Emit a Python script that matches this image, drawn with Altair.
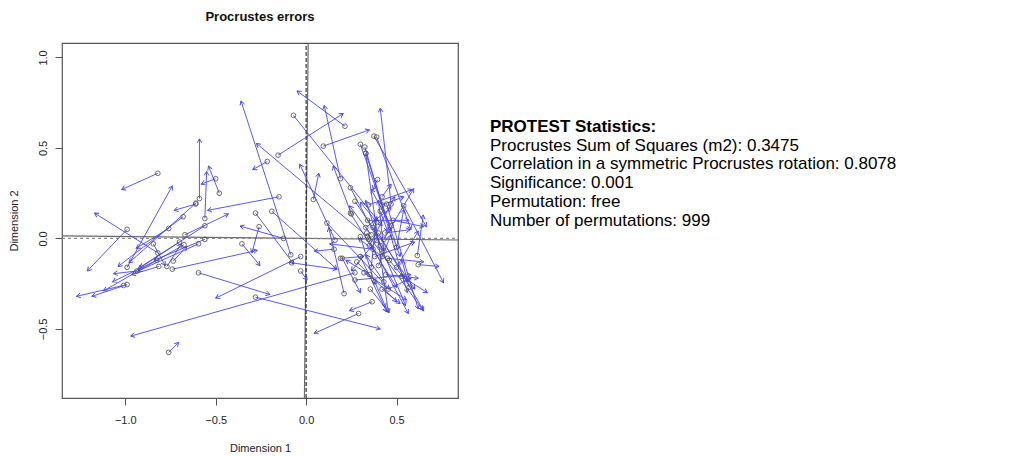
import altair as alt
import numpy as np
import pandas as pd

# Procrustes residual arrows: start (rotated target, drawn as a circle) -> end (arrow head)
x_start = [
    -0.82, -0.99, -0.82, -0.99, -0.59, -0.50, -0.48, -0.56, -0.61, -0.68,
    -0.15, -0.67, -0.76, -0.935, -1.01, -0.99, -0.74, -0.595, -0.76, 0.27,
    -0.28, -0.03, -0.355, -0.26, -0.675, -0.595, -0.56, -0.815, -0.61, -0.735,
    -0.70, -0.56, -0.845, -0.77, -0.825,
    -0.215, -0.085, 0.34, -0.155, -0.07, 0.215, 0.095, 0.19, 0.16, 0.04,
    -0.28, -0.19, 0.115, 0.21, -0.08, -0.03, 0.155, -0.125, 0.19,
    0.47, 0.375, 0.39, 0.30, 0.33, 0.325, 0.395, 0.245, 0.27, 0.345,
    0.42, 0.42, 0.445, 0.245, 0.25, 0.48, 0.435, 0.615, 0.62, 0.28,
    0.32, 0.27, 0.365, 0.29, 0.355, 0.42, 0.455, 0.37, 0.36, 0.40,
    0.39, 0.35, 0.41, 0.38, 0.43, 0.46, 0.40, 0.35, 0.44, 0.50,
    0.53, 0.47, 0.33, 0.30, 0.39, 0.50, 0.43, 0.38, 0.57, 0.34,
    0.41, 0.33, 0.54, 0.335, 0.345, 0.30, 0.43, 0.37, 0.45, 0.20,
    0.36, 0.42,
]
y_start = [
    0.36, 0.05, -0.08, -0.16, 0.22, 0.33, 0.25, 0.11, 0.19, 0.12,
    0.23, 0.02, 0.055, -0.18, -0.26, -0.255, -0.17, -0.19, -0.63, -0.19,
    -0.325, -0.10, -0.03, 0.065, -0.035, -0.03, -0.005, -0.155, 0.195, -0.125,
    -0.02, 0.07, -0.03, -0.155, -0.12,
    0.425, -0.09, 0.01, 0.46, 0.68, 0.62, 0.51, 0.33, -0.01, 0.215,
    0.14, 0.15, 0.085, -0.305, -0.135, -0.18, -0.06, 0.00, -0.11,
    0.19, 0.565, 0.56, 0.52, 0.47, 0.505, 0.325, 0.28, 0.205, 0.185,
    0.23, 0.185, 0.19, 0.14, 0.135, 0.10, 0.03, -0.095, -0.145, -0.13,
    -0.19, -0.23, -0.35, -0.415, -0.28, -0.28, -0.28, 0.06, 0.02, 0.03,
    -0.01, -0.04, -0.04, -0.10, -0.07, -0.12, -0.15, -0.20, -0.20, -0.16,
    -0.21, 0.07, 0.06, 0.01, 0.09, -0.05, -0.24, -0.24, -0.27, 0.10,
    0.15, 0.47, 0.18, 0.03, -0.005, -0.10, -0.005, -0.06, -0.11, -0.11,
    -0.16, -0.10,
]
x_end = [
    -1.02, -1.21, -1.17, -0.74, -0.59, -0.58, -0.54, -0.55, -0.73, -1.04,
    -0.545, -0.43, -0.94, -1.065, -1.27, -1.185, -0.27, -0.20, -0.705, -0.97,
    0.41, -0.50, -0.255, -0.30, -1.12, -0.93, -0.84, -0.965, -0.98, -0.66,
    -0.93, -0.92, -0.78, -0.69, -1.07,
    -0.295, -0.36, -0.275, 0.205, 0.42, -0.05, 0.35, 0.10, -0.035, 0.07,
    -0.07, 0.17, 0.46, 0.125, 0.17, 0.005, 0.045, -0.365, 0.32,
    0.41, 0.665, 0.58, 0.52, 0.455, 0.56, 0.37, 0.43, 0.60, 0.585,
    0.47, 0.54, 0.62, 0.50, 0.15, 0.65, 0.575, 0.648, 0.735, 0.50,
    0.555, 0.58, 0.24, 0.045, 0.46, 0.52, 0.58, 0.55, 0.24, 0.65,
    0.25, 0.49, 0.33, 0.60, 0.40, 0.56, 0.47, 0.22, 0.62, 0.62,
    0.67, 0.36, 0.47, 0.38, 0.30, 0.54, 0.33, 0.44, 0.53, 0.57,
    0.45, 0.47, 0.76, 0.645, 0.565, 0.445, 0.595, 0.13, 0.65, 0.30,
    0.39, 0.29,
]
y_end = [
    0.27, -0.18, 0.14, 0.29, 0.55, 0.30, 0.40, 0.37, 0.155, -0.155,
    0.155, 0.135, -0.055, -0.195, -0.32, -0.32, -0.066, -0.31, -0.575, -0.54,
    -0.50, -0.33, -0.15, -0.08, -0.29, -0.18, -0.12, -0.20, -0.135, -0.045,
    -0.17, -0.16, -0.15, -0.03, -0.24,
    0.38, 0.76, 0.525, 0.69, 0.07, 0.815, 0.60, 0.735, 0.41, 0.36,
    -0.14, -0.17, -0.28, 0.06, -0.17, -0.23, -0.07, 0.068, -0.10,
    0.72, 0.065, 0.05, -0.10, -0.41, -0.30, 0.27, -0.07, -0.28, 0.27,
    0.30, 0.23, -0.39, -0.27, 0.40, 0.065, 0.048, 0.13, -0.155, -0.35,
    -0.34, -0.20, -0.40, -0.525, -0.41, -0.36, -0.22, -0.37, 0.18, -0.40,
    -0.18, 0.23, 0.21, -0.02, 0.21, -0.24, 0.02, -0.12, -0.22, 0.04,
    -0.30, 0.27, 0.17, -0.25, 0.20, 0.16, -0.09, -0.38, -0.12, 0.10,
    0.04, 0.04, -0.245, -0.395, -0.415, -0.405, 0.275, -0.03, -0.13, -0.30,
    0.12, 0.00,
]

# Slope of the rotated first axis (the second axis is perpendicular to it)
rotation_slope = -0.0105

x_domain = [-1.35, 0.84]
y_domain = [-0.882, 1.08]
x_ticks = [-1.0, -0.5, 0.0, 0.5]
y_ticks = [-0.5, 0.0, 0.5, 1.0]

plot_title = "Procrustes errors"
stats_heading = "PROTEST Statistics:"
stats_lines = [
    "Procrustes Sum of Squares (m2): 0.3475",
    "Correlation in a symmetric Procrustes rotation: 0.8078",
    "Significance: 0.001",
    "Permutation: free",
    "Number of permutations: 999",
]

W, H = 396, 355
FONT = "Liberation Sans"
ARROW = "#4646ec"

arrows = pd.DataFrame({"x0": x_start, "y0": y_start, "x1": x_end, "y1": y_end})
# pixels per data unit, used to orient the arrow heads on screen
sx = W / (x_domain[1] - x_domain[0])
sy = H / (y_domain[1] - y_domain[0])
arrows["angle"] = (
    np.degrees(np.arctan2((arrows.x1 - arrows.x0) * sx, (arrows.y1 - arrows.y0) * sy)) + 360
) % 360

xs = alt.Scale(domain=x_domain, nice=False, zero=False)
ys = alt.Scale(domain=y_domain, nice=False, zero=False)

x_axis = alt.Axis(
    values=x_ticks, format=".1f", title="Dimension 1", grid=False, domain=False,
    tickSize=7, tickColor="#555", labelFont=FONT, labelFontSize=11, labelColor="#222",
    labelBaseline="alphabetic", labelPadding=18, labelFlush=False,
    titleFont=FONT, titleFontSize=11, titleFontWeight="normal", titleColor="#222",
    titleBaseline="alphabetic", titleY=53, titleX=W / 2,
)
y_axis = alt.Axis(
    values=y_ticks, format=".1f", title="Dimension 2", grid=False, domain=False,
    tickSize=7, tickColor="#555", labelFont=FONT, labelFontSize=11, labelColor="#222",
    labelAngle=270, labelAlign="center", labelBaseline="alphabetic", labelPadding=9,
    labelFlush=False,
    titleFont=FONT, titleFontSize=11, titleFontWeight="normal", titleColor="#222",
    titleAngle=270, titleAlign="center", titleBaseline="alphabetic",
    titleX=-45, titleY=H / 2,
)


def X(field):
    return alt.X(field, scale=xs, axis=x_axis)


def Y(field):
    return alt.Y(field, scale=ys, axis=y_axis)


# reference lines through the origin
x_lo, x_hi = x_domain
y_lo, y_hi = y_domain
ref = pd.DataFrame({
    "kind": ["h0", "v0", "hrot", "vrot"],
    "x0": [x_lo, 0.0, x_lo, -rotation_slope * y_lo],
    "x1": [x_hi, 0.0, x_hi, -rotation_slope * y_hi],
    "y0": [0.0, y_lo, rotation_slope * x_lo, y_lo],
    "y1": [0.0, y_hi, rotation_slope * x_hi, y_hi],
})


def ref_rule(kind, color, dash, width):
    kw = dict(color=color, strokeWidth=width, clip=True)
    if dash:
        kw["strokeDash"] = dash
    return alt.Chart(ref).transform_filter(alt.datum.kind == kind).mark_rule(**kw).encode(
        x=X("x0:Q"), x2="x1:Q", y=Y("y0:Q"), y2="y1:Q",
    )


lines = [
    ref_rule("hrot", "#6a6a6a", None, 1.2),
    ref_rule("vrot", "#6a6a6a", None, 1.2),
    ref_rule("h0", "#8c8c8c", [3, 3], 1.2),
    ref_rule("v0", "#111111", [4, 2], 1.0),
]

shafts = alt.Chart(arrows).mark_rule(color=ARROW, strokeWidth=0.9, clip=True).encode(
    x=X("x0:Q"), x2="x1:Q", y=Y("y0:Q"), y2="y1:Q",
)

heads = alt.Chart(arrows).mark_point(
    shape="M -0.58 1 L 0 0 L 0.58 1", filled=False, size=64,
    color=ARROW, strokeWidth=0.9, opacity=1,
).encode(
    x=X("x1:Q"), y=Y("y1:Q"),
    angle=alt.Angle("angle:Q", scale=None),
)

circles = alt.Chart(arrows).mark_point(
    shape="circle", filled=False, size=22, color="#4a4a4a", strokeWidth=0.8, opacity=1,
).encode(x=X("x0:Q"), y=Y("y0:Q"))

title_text = alt.Chart(pd.DataFrame({"t": [plot_title]})).mark_text(
    font=FONT, fontSize=13, fontWeight="bold", align="center", baseline="alphabetic",
    color="#111",
).encode(x=alt.value(W / 2), y=alt.value(-22.3), text="t:N")

# statistics panel to the right of the plot
STATS_SIZE = 17
STATS_STEP = 18.8
stats_head = alt.Chart(pd.DataFrame({"t": [stats_heading]})).mark_text(
    font=FONT, fontSize=STATS_SIZE, fontWeight="bold", align="left", baseline="alphabetic",
    color="#000",
).encode(x=alt.value(428), y=alt.value(88.7), text="t:N")

stats_body = alt.Chart(pd.DataFrame({"t": [stats_lines]})).mark_text(
    font=FONT, fontSize=STATS_SIZE, align="left", baseline="alphabetic",
    lineHeight=STATS_STEP, color="#000",
).encode(x=alt.value(428), y=alt.value(88.7 + STATS_STEP), text="t")

chart = alt.layer(
    *lines, shafts, heads, circles, title_text, stats_head, stats_body
).properties(
    width=W, height=H,
    autosize=alt.AutoSizeParams(type="none"),
    padding={"left": 62, "top": 43, "right": 1010 - 62 - W, "bottom": 456 - 43 - H},
).configure_view(stroke="#555", strokeWidth=1.2)

chart.save("out.html", embed_options={"renderer": "svg", "actions": False})
